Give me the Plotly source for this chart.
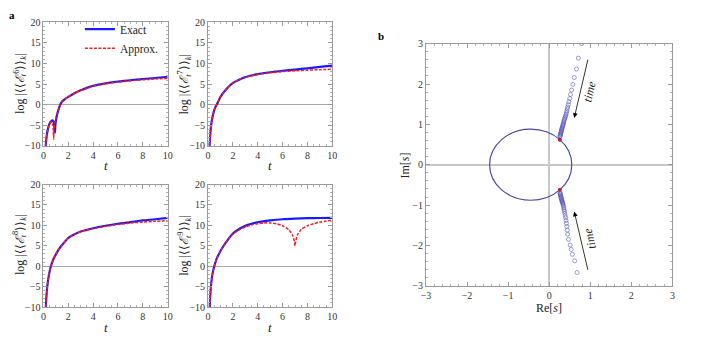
import plotly.graph_objects as go

# ---------------- data: panel a ----------------
t6_exact = [0.18,0.25,0.35,0.45,0.55,0.65,0.72,0.8,0.86,0.9,0.93,0.96,1.0,1.1,1.2,1.35,1.5,1.75,2.0,2.5,3,3.5,4,5,6,7,8,9,10]
v6_exact = [-10,-7.8,-6.0,-4.9,-4.2,-3.9,-3.8,-4.1,-4.8,-5.8,-6.8,-5.0,-3.9,-2.4,-1.3,0.0,0.8,1.4,1.9,2.8,3.5,4.1,4.6,5.2,5.6,5.95,6.25,6.5,6.8]
t6_approx = [0.18,0.25,0.35,0.45,0.55,0.62,0.7,0.75,0.79,0.82,0.85,0.9,1.0,1.1,1.2,1.35,1.5,1.75,2.0,2.5,3,3.5,4,5,6,7,8,9,10]
v6_approx = [-10,-7.9,-6.1,-5.0,-4.4,-4.2,-4.3,-4.8,-6.0,-8.4,-6.0,-4.5,-3.2,-2.2,-1.2,0.0,0.8,1.4,1.9,2.8,3.5,4.0,4.5,5.1,5.5,5.8,6.05,6.25,6.45]

t7 = [0.12,0.16,0.2,0.25,0.3,0.4,0.5,0.6,0.7,0.85,1.0,1.25,1.5,2,2.5,3,3.5,4,5,6,7,8,9,10]
v7_exact = [-10,-7.8,-6.3,-4.9,-3.9,-2.4,-1.3,-0.5,0.0,1.0,1.9,3.0,3.9,5.3,6.1,6.7,7.1,7.45,7.9,8.25,8.55,8.85,9.2,9.5]
v7_approx = [-10,-7.8,-6.3,-4.9,-3.9,-2.4,-1.3,-0.5,0.0,1.0,1.9,3.0,3.9,5.3,6.1,6.7,7.05,7.35,7.75,8.05,8.25,8.4,8.52,8.6]

t8 = [0.19,0.23,0.28,0.35,0.45,0.6,0.8,1.0,1.25,1.5,2,2.5,3,3.5,4,5,6,7,8,9,10]
v8_exact = [-10,-7.8,-5.8,-3.9,-2.0,0.0,1.7,2.9,4.2,5.2,6.9,7.8,8.5,8.9,9.3,9.9,10.4,10.8,11.2,11.5,11.85]
v8_approx = [-10,-7.8,-5.8,-3.9,-2.0,0.0,1.7,2.9,4.2,5.2,6.9,7.8,8.45,8.85,9.2,9.75,10.2,10.55,10.8,11.0,11.15]

t9_exact = [0.13,0.17,0.22,0.3,0.4,0.5,0.7,1.0,1.25,1.5,2,2.5,3,3.5,4,5,6,7,8,9,10]
v9_exact = [-10,-7.5,-5.3,-3.0,-1.2,0.0,1.9,3.7,5.0,6.1,8.0,9.1,9.9,10.4,10.75,11.2,11.5,11.65,11.75,11.8,11.85]
t9_approx = [0.13,0.17,0.22,0.3,0.4,0.5,0.7,1.0,1.25,1.5,2,2.5,3,3.5,4,4.5,5,5.5,6,6.5,6.8,6.95,7.0,7.05,7.2,7.5,8,8.5,9,9.5,10]
v9_approx = [-10,-7.5,-5.3,-3.0,-1.2,0.0,1.9,3.7,5.0,6.1,7.9,8.9,9.6,10.1,10.4,10.6,10.6,10.4,9.9,8.9,7.6,6.0,5.0,6.0,7.7,9.0,9.9,10.4,10.8,11.05,11.3]

y_labels = ["6", "7", "8", "9"]

# ---------------- data: panel b ----------------
ellipse_center = (-0.45, 0.0)
ellipse_radii = (1.0, 0.88)
poles_re = [0.26, 0.26]
poles_im = [0.62, -0.62]
upper_re = [0.79,0.71,0.665,0.61,0.575,0.545,0.52,0.50,0.48,0.465,0.45,0.44,0.43,0.42,0.41,0.40,0.39,0.38,0.37,0.36,0.355,0.35,0.34,0.335,0.33,0.32,0.315,0.31,0.305,0.30,0.295,0.29,0.285,0.28,0.275,0.27,0.268,0.265]
upper_im = [3.0,2.64,2.37,2.16,1.99,1.85,1.74,1.64,1.56,1.49,1.43,1.38,1.33,1.29,1.25,1.21,1.18,1.15,1.12,1.09,1.06,1.03,1.0,0.98,0.96,0.93,0.91,0.89,0.87,0.85,0.83,0.81,0.79,0.77,0.75,0.73,0.71,0.70]
lower_re = [0.68,0.62,0.565,0.535,0.51,0.47,0.45,0.44,0.43,0.42,0.41,0.40,0.39,0.38,0.37,0.36,0.355,0.35,0.34,0.335,0.33,0.32,0.315,0.31,0.305,0.30,0.295,0.29,0.285,0.28,0.275,0.27,0.268,0.265]
lower_im = [-2.67,-2.38,-2.22,-2.1,-1.99,-1.85,-1.72,-1.62,-1.53,-1.45,-1.38,-1.31,-1.25,-1.2,-1.15,-1.11,-1.07,-1.03,-1.0,-0.97,-0.95,-0.93,-0.91,-0.89,-0.87,-0.85,-0.83,-0.81,-0.79,-0.77,-0.75,-0.73,-0.71,-0.70]

W, H = 706, 342
def px_x(p): return p / W
def px_y(p): return 1 - p / H

BLUE = "#1a1aff"
RED = "#ff1a1a"
SERIF = "Liberation Serif"

fig = go.Figure()

panels = [
    (t6_exact, v6_exact, t6_approx, v6_approx),
    (t7, v7_exact, t7, v7_approx),
    (t8, v8_exact, t8, v8_approx),
    (t9_exact, v9_exact, t9_approx, v9_approx),
]
for i, (te, ve, ta, va) in enumerate(panels):
    ax = "" if i == 0 else str(i + 1)
    fig.add_trace(go.Scatter(x=te, y=ve, mode="lines", name="Exact",
                             line=dict(color=BLUE, width=2.2, shape="spline", smoothing=0.6),
                             xaxis="x" + ax, yaxis="y" + ax, showlegend=(i == 0)))
    fig.add_trace(go.Scatter(x=ta, y=va, mode="lines", name="Approx.",
                             line=dict(color=RED, width=1.5, dash="3px,1.5px", shape="spline", smoothing=0.6),
                             xaxis="x" + ax, yaxis="y" + ax, showlegend=(i == 0)))

mk = dict(symbol="circle-open", size=4, color="rgba(90,90,185,0.6)", line=dict(width=1))
fig.add_trace(go.Scatter(x=upper_re, y=upper_im, mode="markers", showlegend=False, marker=mk,
                         xaxis="x5", yaxis="y5"))
fig.add_trace(go.Scatter(x=lower_re, y=lower_im, mode="markers", showlegend=False, marker=mk,
                         xaxis="x5", yaxis="y5"))
fig.add_trace(go.Scatter(x=poles_re, y=poles_im, mode="markers", showlegend=False,
                         marker=dict(symbol="circle", size=4, color="red"),
                         xaxis="x5", yaxis="y5"))

cx, cy = ellipse_center
rx, ry = ellipse_radii
fig.add_shape(type="circle", xref="x5", yref="y5", x0=cx - rx, x1=cx + rx, y0=cy - ry, y1=cy + ry,
              line=dict(color="#4a4aa0", width=1.2))

tickfont = dict(family=SERIF, size=10, color="#333")
def axis_style(**kw):
    d = dict(showline=True, linecolor="#9a9a9a", linewidth=1, mirror="ticks", ticks="inside",
             ticklen=4, tickcolor="#9a9a9a", tickfont=tickfont, showgrid=False)
    d.update(kw)
    return d

dom_ax = [(39, 165), (206, 332), (39, 165), (206, 332)]
dom_ay = [(17, 145), (17, 145), (185, 312), (185, 312)]
layout = {}
for i in range(4):
    ax = "" if i == 0 else str(i + 1)
    x0, x1 = dom_ax[i]
    y0, y1 = dom_ay[i]
    layout["xaxis" + ax] = axis_style(domain=[px_x(x0), px_x(x1)], range=[0, 10], dtick=2,
                                      minor=dict(ticks="inside", ticklen=2, tickcolor="#b0b0b0", dtick=0.5),
                                      zeroline=False, anchor="y" + ax)
    layout["yaxis" + ax] = axis_style(domain=[px_y(y1), px_y(y0)], range=[-10, 20], dtick=5,
                                      minor=dict(ticks="inside", ticklen=2, tickcolor="#b0b0b0", dtick=1),
                                      zeroline=True, zerolinecolor="#a8a8a8", zerolinewidth=1, anchor="x" + ax)
layout["xaxis5"] = axis_style(domain=[px_x(427), px_x(677)], range=[-3, 3], dtick=1,
                              minor=dict(ticks="inside", ticklen=2, tickcolor="#b0b0b0", dtick=0.2),
                              zeroline=True, zerolinecolor="#c8c8c8", zerolinewidth=1.5, anchor="y5")
layout["yaxis5"] = axis_style(domain=[px_y(290), px_y(39)], range=[-3, 3], dtick=1,
                              minor=dict(ticks="inside", ticklen=2, tickcolor="#b0b0b0", dtick=0.2),
                              zeroline=True, zerolinecolor="#c8c8c8", zerolinewidth=1.5, anchor="x5")

fig.update_layout(**layout)

def pa(xp, yp, text, size=12, angle=0, color="#222"):
    return dict(x=px_x(xp), y=px_y(yp), xref="paper", yref="paper", showarrow=False, textangle=angle,
                xanchor="center", yanchor="middle", text=text,
                font=dict(family=SERIF, size=size, color=color))

ann = []
ytitle_pos = [(15, 81), (182, 81), (15, 248), (182, 248)]
xtitle_pos = [(102, 165), (269, 165), (102, 333), (269, 333)]
for i in range(4):
    n = y_labels[i]
    ann.append(pa(*ytitle_pos[i],
                  "log |⟨⟨<i>ℰ</i><sub><i>t</i></sub><sup>" + n + "</sup>⟩⟩<sub><i>k</i></sub>|",
                  size=12, angle=-90))
    ann.append(pa(*xtitle_pos[i], "<i>t</i>", size=13))
ann.append(pa(406, 165, "Im[<i>s</i>]", size=12, angle=-90))
ann.append(pa(552, 313, "Re[<i>s</i>]", size=12))
ann.append(pa(7, 9, "<b>a</b>", size=11, color="#000"))
ann.append(pa(381, 31, "<b>b</b>", size=11, color="#000"))
ann.append(dict(x=0.61, y=1.16, ax=0.95, ay=2.64, xref="x5", yref="y5", axref="x5", ayref="y5",
                showarrow=True, arrowhead=2, arrowsize=1.2, arrowwidth=0.8, arrowcolor="#000", text=""))
ann.append(dict(x=0.61, y=-1.16, ax=0.95, ay=-2.64, xref="x5", yref="y5", axref="x5", ayref="y5",
                showarrow=True, arrowhead=2, arrowsize=1.2, arrowwidth=0.8, arrowcolor="#000", text=""))
ann.append(dict(x=0.99, y=1.82, xref="x5", yref="y5", showarrow=False, textangle=-77,
                xanchor="center", yanchor="middle",
                text="<i>time</i>", font=dict(family=SERIF, size=12, color="#222")))
ann.append(dict(x=0.99, y=-1.82, xref="x5", yref="y5", showarrow=False, textangle=-103,
                xanchor="center", yanchor="middle",
                text="<i>time</i>", font=dict(family=SERIF, size=12, color="#222")))

fig.update_layout(
    width=W, height=H, margin=dict(l=0, r=0, t=0, b=0),
    paper_bgcolor="white", plot_bgcolor="white",
    font=dict(family=SERIF),
    annotations=ann,
    legend=dict(x=px_x(76), y=px_y(9), xanchor="left", yanchor="top", bgcolor="rgba(0,0,0,0)",
                font=dict(family=SERIF, size=11.5, color="#222"), tracegroupgap=0, itemwidth=30),
)

fig.write_html(
    "out.html",
    config={"displayModeBar": False},
    post_script=(
        "document.documentElement.style.margin='0';document.documentElement.style.padding='0';"
        "document.documentElement.style.overflow='hidden';"
        "document.body.style.margin='0';document.body.style.padding='0';"
        "document.body.style.overflow='hidden';"
    ),
)
